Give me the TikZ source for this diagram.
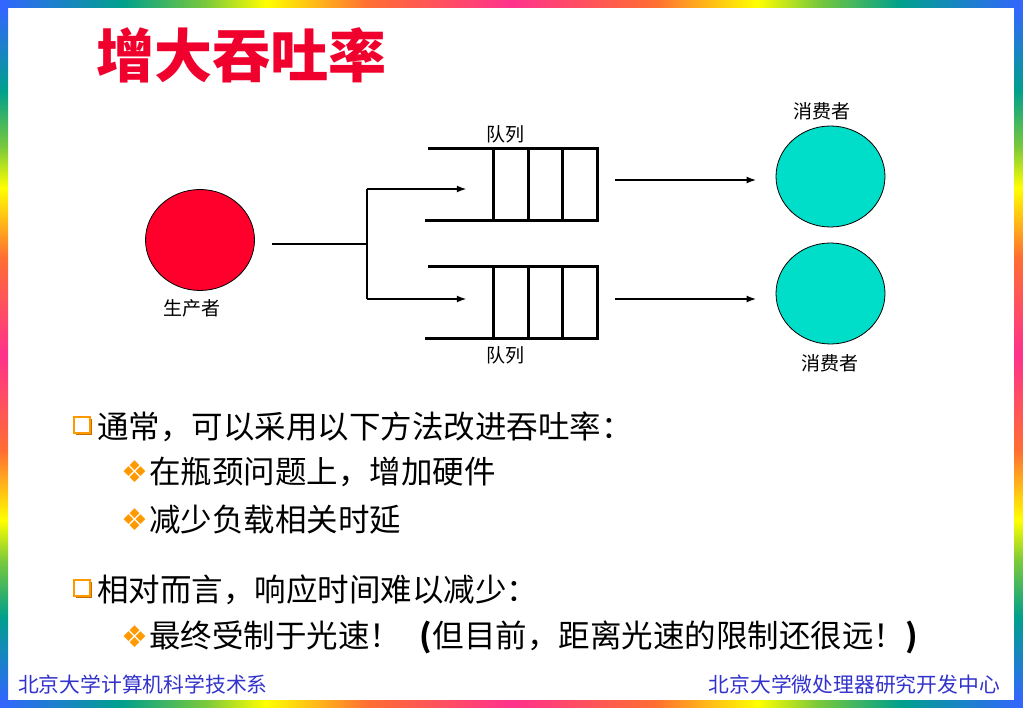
\documentclass[tikz,border=0pt]{standalone}
\usepackage{fontspec}
\newfontfamily\cjk{Noto Sans CJK SC}
\newfontfamily\sym{DejaVu Sans}
\usetikzlibrary{shapes.geometric,arrows.meta,calc,shadows}

\definecolor{rbblue}{RGB}{51,102,255}
\definecolor{rbteal}{RGB}{0,160,140}
\definecolor{rbgreen}{RGB}{120,200,60}
\definecolor{rbyellow}{RGB}{255,255,0}
\definecolor{rborange}{RGB}{255,110,50}
\definecolor{rbpink}{RGB}{255,50,140}
\definecolor{titlered}{RGB}{240,0,45}
\definecolor{prodred}{RGB}{255,0,45}
\definecolor{consteal}{RGB}{0,221,200}
\definecolor{bulletorange}{RGB}{255,153,0}
\definecolor{bulletdark}{RGB}{200,110,0}
\definecolor{footblue}{RGB}{51,51,204}

\pgfdeclarehorizontalshading{rainbowx}{100bp}{color(0bp)=(rbblue); color(25bp)=(rbblue);
  color(31bp)=(rbteal); color(35bp)=(rbgreen); color(38bp)=(rbyellow); color(43bp)=(rborange);
  color(50bp)=(rbpink); color(57bp)=(rborange); color(62bp)=(rbyellow); color(65bp)=(rbgreen);
  color(69bp)=(rbteal); color(75bp)=(rbblue); color(100bp)=(rbblue)}
\pgfdeclareverticalshading{rainbowy}{100bp}{color(0bp)=(rbblue); color(25bp)=(rbblue);
  color(31bp)=(rbteal); color(35bp)=(rbgreen); color(38bp)=(rbyellow); color(43bp)=(rborange);
  color(50bp)=(rbpink); color(57bp)=(rborange); color(62bp)=(rbyellow); color(65bp)=(rbgreen);
  color(69bp)=(rbteal); color(75bp)=(rbblue); color(100bp)=(rbblue)}

\tikzset{
  qline/.style={line width=2.8pt},
  wire/.style={line width=2.2pt},
  flow/.style={line width=2.2pt,-{Latex[length=10pt,width=7pt]}},
  agent/.style={ellipse,draw=black,line width=0.8pt,minimum width=109pt,minimum height=101pt,inner sep=0pt},
  queue/.style={rectangle,minimum width=103pt,minimum height=71pt,inner sep=0pt},
  tag/.style={font=\cjk\fontsize{19}{20}\selectfont,inner sep=0pt},
  point/.style={anchor=west,inner sep=0pt,font=\cjk\fontsize{31.5}{34}\selectfont},
  sqbullet/.style={rectangle,draw=bulletorange,fill=white,line width=2pt,minimum size=16pt,inner sep=0pt,
    drop shadow={shadow xshift=2.2pt,shadow yshift=-2.2pt,fill=bulletdark,opacity=1}},
  dmbullet/.style={inner sep=0pt,text=bulletorange,font=\sym\fontsize{30}{30}\selectfont},
  foot/.style={inner sep=0pt,text=footblue,font=\cjk\fontsize{20.8}{22}\selectfont}
}

\begin{document}
\begin{tikzpicture}[x=1pt, y=-1pt]

\useasboundingbox (0,0) rectangle (1023,708);
\fill[white] (0,0) rectangle (1023,708);

% frame
\shade[shading=rainbowx] (0,0) rectangle (1023,8);
\shade[shading=rainbowx] (0,700) rectangle (1023,708);
\shade[shading=rainbowy] (0,8) rectangle (8,700);
\shade[shading=rainbowy] (1014,8) rectangle (1023,700);

\node[anchor=west,inner sep=0pt,text=titlered,font=\cjk\bfseries\fontsize{58}{60}\selectfont] (title) at (96,55) {增大吞吐率};

% producer, queues, consumers
\node[agent,fill=prodred] (prod) at (200,240) {};
\node[tag] (prodlbl) at (192,308) {生产者};

\node[queue] (q1) at (545.5,184.5) {};
\node[queue] (q2) at (545.5,302.5) {};
\node[tag] (q1lbl) at (505,134) {队列};
\node[tag] (q2lbl) at (505,355) {队列};

\foreach \q in {q1,q2} {
  \draw[qline] ($(\q.north west)+(-66,0)$) -- (\q.north east) -- (\q.south east) -- ($(\q.south west)+(-69,0)$);
  \foreach \f in {0,1,2}
    \draw[qline] ($(\q.north west)!\f/3!(\q.north east)$) -- ($(\q.south west)!\f/3!(\q.south east)$);
}

\node[agent,fill=consteal] (c1) at (830.5,176.5) {};
\node[agent,fill=consteal] (c2) at (830.5,293.5) {};
\node[tag] (c1lbl) at (822,111) {消费者};
\node[tag] (c2lbl) at (830,363) {消费者};

\coordinate (in) at (272,244);
\coordinate (fork) at (367,244);
\coordinate (split1) at (367,189);
\coordinate (split2) at (367,299);

\draw[wire] (in) -- (fork);
\draw[wire] (split1) -- (split2);
\draw[flow,shorten >=27pt] (split1) -- (split1 -| q1.west);
\draw[flow,shorten >=27pt] (split2) -- (split2 -| q2.west);

\draw[flow,shorten <=18pt,shorten >=19pt] ([yshift=4.5pt]q1.east) -- ([yshift=4.5pt]q1.east -| c1.west);
\draw[flow,shorten <=18pt,shorten >=19pt] ([yshift=3.5pt]q2.east) -- ([yshift=3.5pt]q2.east -| c2.west);

% text
\node[sqbullet] (b1) at (82,425) {};
\node[point] (t1) at (97,427) {通常，可以采用以下方法改进吞吐率：};
\node[dmbullet] (b2) at (135,472) {❖};
\node[point] (t2) at (149,472) {在瓶颈问题上，增加硬件};
\node[dmbullet] (b3) at (135,520) {❖};
\node[point] (t3) at (149,520) {减少负载相关时延};
\node[sqbullet] (b4) at (82,588) {};
\node[point] (t4) at (97,590) {相对而言，响应时间难以减少：};
\node[dmbullet] (b5) at (135,637) {❖};
\node[point] (t5) at (149,637) {最终受制于光速！\hspace{18pt}\textbf{(}\hspace{1pt}但目前，距离光速的限制还很远！\textbf{)}};

\node[foot,anchor=west] (footl) at (18,685) {北京大学计算机科学技术系};
\node[foot,anchor=east] (footr) at (1000,685) {北京大学微处理器研究开发中心};

\end{tikzpicture}
\end{document}
